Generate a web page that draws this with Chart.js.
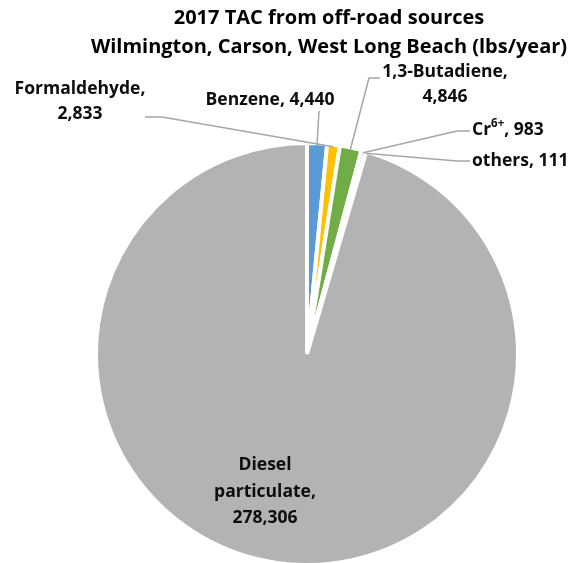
<!DOCTYPE html>
<html><head><meta charset="utf-8">
<script src="https://cdn.jsdelivr.net/npm/chart.js@4.4.0/dist/chart.umd.min.js"></script>
<style>html,body{margin:0;padding:0;background:#fff;}</style>
</head><body>
<canvas id="c" width="573" height="563"></canvas>
<script>
const titleLines = ['2017 TAC from off-road sources', 'Wilmington, Carson, West Long Beach (lbs/year)'];
const categories = ['Benzene', 'Formaldehyde', '1,3-Butadiene', 'Cr6+', 'others', 'Diesel particulate'];
const values = [4440, 2833, 4846, 983, 111, 278306];
const valueLabels = ['4,440', '2,833', '4,846', '983', '111', '278,306'];
const colors = ['#5b9bd5', '#ffc000', '#70ad47', '#4472c4', '#9e480e', '#b3b3b3'];

// label layout (positions only)
const labelLayout = [
  {mode: 'one',   align: 'center', x: 270, y: [100],          elbow: [[319, 111]]},
  {mode: 'two',   align: 'center', x: 80,  y: [89, 114],      elbow: [[145, 117], [162, 117]]},
  {mode: 'two',   align: 'center', x: 445, y: [72, 97],       elbow: [[380, 78], [369, 78]]},
  {mode: 'sup',   align: 'left',   x: 472, y: [130],          elbow: [[470, 131], [457, 131]]},
  {mode: 'one',   align: 'left',   x: 472, y: [161],          elbow: [[470, 161], [457, 161]]},
  {mode: 'words', align: 'center', x: 265, y: [465, 492, 518], elbow: null}
];
const FONT = '"Open Sans"';
const labelFont = 'bold 17.5px ' + FONT;
const titleFont = 'bold 20px ' + FONT;

function labelLines(i) {
  const m = labelLayout[i].mode;
  const c = categories[i], v = valueLabels[i];
  if (m === 'one') return [c + ', ' + v];
  if (m === 'two') return [c + ',', v];
  if (m === 'words') { const w = c.split(' '); return [w[0], w.slice(1).join(' ') + ',', v]; }
  return [c + ', ' + v];
}

const labelsPlugin = {
  id: 'labelsPlugin',
  afterDraw(chart) {
    const ctx = chart.ctx;
    const meta = chart.getDatasetMeta(0);
    ctx.save();
    ctx.fillStyle = '#000';
    ctx.font = titleFont;
    ctx.textAlign = 'center';
    ctx.textBaseline = 'middle';
    ctx.fillText(titleLines[0], 329, 18);
    ctx.fillText(titleLines[1], 329, 47);
    ctx.strokeStyle = '#a6a6a6';
    ctx.lineWidth = 1.5;
    labelLayout.forEach((L, i) => {
      if (!L.elbow) return;
      const a = meta.data[i];
      const p = a.getProps(['x', 'y', 'startAngle', 'endAngle', 'outerRadius'], true);
      const mid = (p.startAngle + p.endAngle) / 2;
      const r = p.outerRadius - 2;
      const ax = p.x + Math.cos(mid) * r, ay = p.y + Math.sin(mid) * r;
      ctx.beginPath();
      ctx.moveTo(L.elbow[0][0], L.elbow[0][1]);
      for (let k = 1; k < L.elbow.length; k++) ctx.lineTo(L.elbow[k][0], L.elbow[k][1]);
      ctx.lineTo(ax, ay);
      ctx.stroke();
    });
    ctx.fillStyle = '#0d0d0d';
    ctx.font = labelFont;
    ctx.textBaseline = 'middle';
    labelLayout.forEach((L, i) => {
      const lines = labelLines(i);
      if (L.mode === 'sup') {
        ctx.textAlign = 'left';
        const base = categories[i].replace('6+', '');
        const sup = '6+';
        let x = L.x;
        ctx.font = labelFont;
        ctx.fillText(base, x, L.y[0]);
        x += ctx.measureText(base).width;
        ctx.font = 'bold 11.5px ' + FONT;
        ctx.fillText(sup, x, L.y[0] - 6);
        x += ctx.measureText(sup).width;
        ctx.font = labelFont;
        ctx.fillText(', ' + valueLabels[i], x, L.y[0]);
        return;
      }
      ctx.textAlign = L.align;
      lines.forEach((t, k) => ctx.fillText(t, L.x, L.y[k]));
    });
    ctx.restore();
  }
};

new Chart(document.getElementById('c'), {
  type: 'pie',
  data: {
    labels: categories,
    datasets: [{
      data: values,
      backgroundColor: colors,
      borderColor: '#ffffff',
      borderWidth: 4,
      radius: 211
    }]
  },
  options: {
    responsive: false,
    animation: false,
    devicePixelRatio: 1,
    layout: {padding: {left: 97, right: 56, top: 145, bottom: 0}},
    plugins: {legend: {display: false}, tooltip: {enabled: false}, title: {display: false}}
  },
  plugins: [labelsPlugin]
});
</script>
</body></html>
